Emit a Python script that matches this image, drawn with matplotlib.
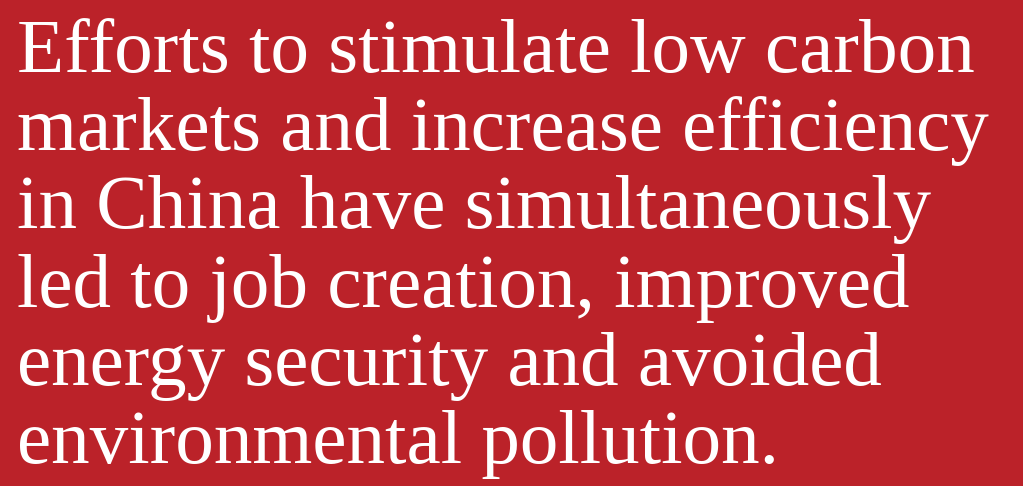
import matplotlib
matplotlib.use("Agg")
import matplotlib.pyplot as plt

lines = [
    "Efforts to stimulate low carbon",
    "markets and increase efficiency",
    "in China have simultaneously",
    "led to job creation, improved",
    "energy security and avoided",
    "environmental pollution.",
]
baselines_px = [72, 150, 228, 307, 385, 463]

W, H = 1023, 486
fig = plt.figure(figsize=(W / 100, H / 100), dpi=100)
fig.patch.set_facecolor("#bb2229")
ax = fig.add_axes([0, 0, 1, 1])
ax.set_xlim(0, W)
ax.set_ylim(H, 0)
ax.axis("off")

for txt, yb in zip(lines, baselines_px):
    ax.text(17, yb, txt, fontsize=55.5, family="Liberation Serif", color="white",
            va="baseline", ha="left")

fig.savefig("out.png", dpi=100, facecolor=fig.get_facecolor())
